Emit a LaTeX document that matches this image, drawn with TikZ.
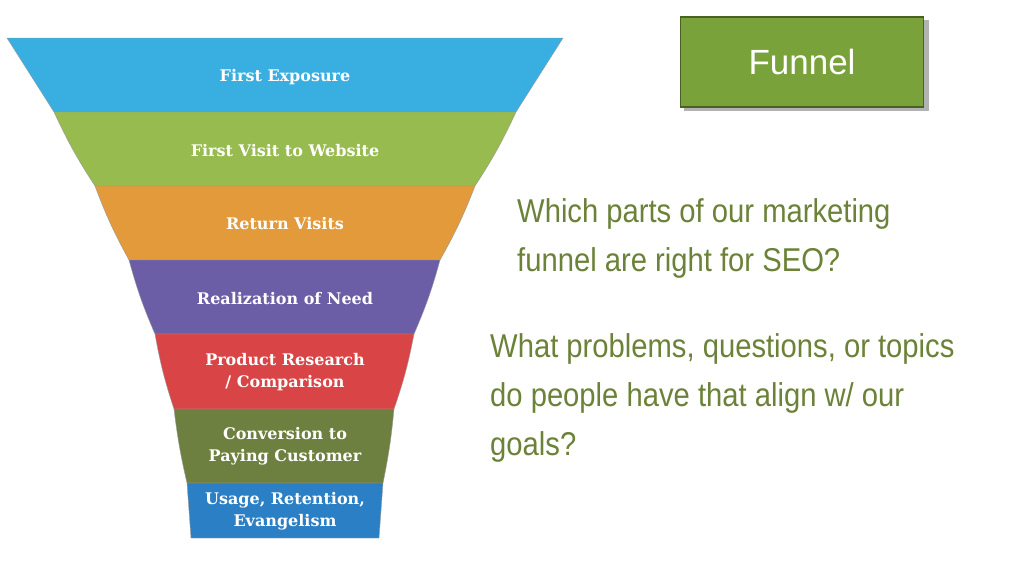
\documentclass[tikz,border=0pt]{standalone}
\usepackage{fontspec}
\setmainfont{Liberation Sans}
\newfontfamily\slab{DejaVu Serif}
\newfontfamily\narrow[FakeStretch=0.885]{Liberation Sans}
\begin{document}
\begin{tikzpicture}[x=1pt,y=-1pt,
  lay/.style={draw=black!40,line width=0.4pt},
  ltxt/.style={text=white,font=\slab\bfseries\fontsize{16}{22}\selectfont,align=center},
  qtxt/.style={text=qcol,font=\narrow\fontsize{33}{49}\selectfont,align=left,anchor=north west,inner sep=0pt}]
\definecolor{qcol}{HTML}{6B8238}
\definecolor{c1}{HTML}{39AFE1}
\definecolor{c2}{HTML}{97BB4F}
\definecolor{c3}{HTML}{E39A3B}
\definecolor{c4}{HTML}{6B5EA7}
\definecolor{c5}{HTML}{D94546}
\definecolor{c6}{HTML}{6E8040}
\definecolor{c7}{HTML}{2B80C5}
\definecolor{fg}{HTML}{79A33A}
\useasboundingbox (0,0) rectangle (1024,576);
\fill[white] (0,0) rectangle (1024,576);
\fill[c1,lay] (7,38) -- (563,38) -- (516,112) -- (54,112) -- cycle;
\fill[c2,lay] (54,112) -- (516,112) to[bend left=4] (475,186) -- (95,186) to[bend left=4] cycle;
\fill[c3,lay] (95,186) -- (475,186) to[bend left=4] (440,260) -- (129,260) to[bend left=4] cycle;
\fill[c4,lay] (129,260) -- (440,260) to[bend left=4] (414,334) -- (155,334) to[bend left=4] cycle;
\fill[c5,lay] (155,334) -- (414,334) to[bend left=4] (394,409) -- (174,409) to[bend left=4] cycle;
\fill[c6,lay] (174,409) -- (394,409) to[bend left=3] (383,483) -- (187,483) to[bend left=3] cycle;
\fill[c7,lay] (187,483) -- (383,483) -- (379,538) -- (191,538) -- cycle;
\node[ltxt] (l1) at (285,77) {First Exposure};
\node[ltxt] (l2) at (285,151) {First Visit to Website};
\node[ltxt] (l3) at (285,224) {Return Visits};
\node[ltxt] (l4) at (285,299) {Realization of Need};
\node[ltxt] (l5) at (285,372) {Product Research\\/ Comparison};
\node[ltxt] (l6) at (285,446) {Conversion to\\Paying Customer};
\node[ltxt] (l7) at (285,511) {Usage, Retention,\\Evangelism};
\fill[black!30] (684,20) rectangle (929,111);
\node[draw=fg!60!black,line width=1.5pt,fill=fg,minimum width=243pt,minimum height=90pt,text=white,font=\fontsize{35}{40}\selectfont] (fb) at (802,62) {Funnel};
\node[qtxt] (q1) at (517,198) {Which parts of our marketing\\funnel are right for SEO?};
\node[qtxt] (q2) at (490,333) {What problems, questions, or topics\\do people have that align w/ our\\goals?};
\end{tikzpicture}
\end{document}
